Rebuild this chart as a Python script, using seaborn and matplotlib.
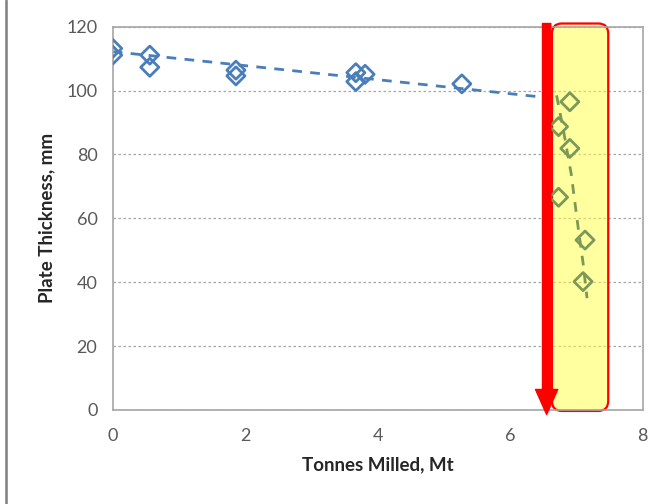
import numpy as np
import pandas as pd
import seaborn as sns
import matplotlib
matplotlib.use("Agg")
import matplotlib.pyplot as plt
from matplotlib.patches import FancyBboxPatch, FancyArrowPatch
from matplotlib.lines import Line2D

# Liner plate thickness measurements against cumulative tonnes milled
early_mt = [0.0, 0.0, 0.56, 0.56, 1.86, 1.86, 3.67, 3.67, 3.81, 5.27]
early_mm = [113.2, 111.1, 111.1, 107.3, 106.4, 104.6, 105.6, 102.8, 105.1, 102.1]

late_mt = [6.90, 6.73, 6.90, 6.73, 7.13, 7.10]
late_mm = [96.5, 88.7, 81.9, 66.6, 53.2, 40.2]

# Wear trend lines
early_trend_mt = [0.0, 6.6]
early_trend_mm = [112.2, 97.7]
late_trend_mt = [6.70, 6.80, 6.92, 7.02, 7.10, 7.16]
late_trend_mm = [98.5, 88.0, 74.0, 58.0, 46.0, 35.0]

x_ticks = [0, 2, 4, 6, 8]
y_ticks = [0, 20, 40, 60, 80, 100, 120]

BLUE = "#4A7EBB"
GREEN = "#7A9956"
GREY_TXT = "#595959"

sns.set_theme(style="white")
plt.rcParams["font.family"] = ["Lato", "DejaVu Sans"]

fig = plt.figure(figsize=(6.64, 5.04), dpi=100)
ax = fig.add_axes([112.7 / 664, 1 - 410 / 504, (642.7 - 112.7) / 664, (410 - 26.7) / 504])

early = pd.DataFrame({"mt": early_mt, "mm": early_mm})
late = pd.DataFrame({"mt": late_mt, "mm": late_mm})

# Highlight band for the accelerated-wear period
band = FancyBboxPatch((6.63, -0.3), 7.48 - 6.63, 121.0 + 0.3,
                      boxstyle="round,pad=0,rounding_size=0.15",
                      mutation_aspect=21,
                      facecolor=(1.0, 1.0, 0.25, 0.5), edgecolor="#FF0000",
                      linewidth=1.6, zorder=1.5, clip_on=False)
ax.add_patch(band)

ax.plot(early_trend_mt, early_trend_mm, color=BLUE, lw=2.0,
        dashes=(3.5, 3.0), zorder=2)
ax.plot(late_trend_mt, late_trend_mm, color=GREEN, lw=2.0,
        dashes=(3.5, 3.0), zorder=2)

sns.scatterplot(data=early, x="mt", y="mm", ax=ax, marker="D", s=85,
                facecolor="none", edgecolor=BLUE, linewidth=2.0, zorder=3,
                legend=False)
sns.scatterplot(data=late, x="mt", y="mm", ax=ax, marker="D", s=85,
                facecolor="none", edgecolor=GREEN, linewidth=2.0, zorder=3,
                legend=False)

# Red arrow marking the change point
arrow = FancyArrowPatch((6.55, 121.0), (6.55, -1.4),
                        arrowstyle="simple,head_length=18,head_width=16,tail_width=6",
                        mutation_scale=1, color="#FF0000", shrinkA=0, shrinkB=0,
                        zorder=4, clip_on=False)
ax.add_patch(arrow)

ax.set_xlim(0, 8)
ax.set_ylim(0, 120)
ax.set_xticks(x_ticks)
ax.set_yticks(y_ticks)
ax.set_xticklabels([str(v) for v in x_ticks])
ax.set_yticklabels([str(v) for v in y_ticks])

ax.yaxis.grid(True, color="#A6A6A6", linestyle=(0, (2, 2)), linewidth=0.9)
ax.xaxis.grid(False)
ax.set_axisbelow(True)

for sp in ax.spines.values():
    sp.set_visible(True)
    sp.set_color("#A6A6A6")
    sp.set_linewidth(1.2)

ax.tick_params(axis="both", length=0, labelsize=13, colors=GREY_TXT)
ax.tick_params(axis="y", pad=11)
ax.tick_params(axis="x", pad=13)

ax.set_xlabel("Tonnes Milled, Mt", fontsize=13.5, fontweight="bold",
              color="#262626", labelpad=9)
ax.set_ylabel("Plate Thickness, mm", fontsize=13.5, fontweight="bold",
              color="#262626", labelpad=8)

# Left border of the panel
fig.add_artist(Line2D([5.5 / 664, 5.5 / 664], [0, 1], color="#7F7F7F",
                      lw=1.8, transform=fig.transFigure))

fig.savefig("out.png", dpi=100)
